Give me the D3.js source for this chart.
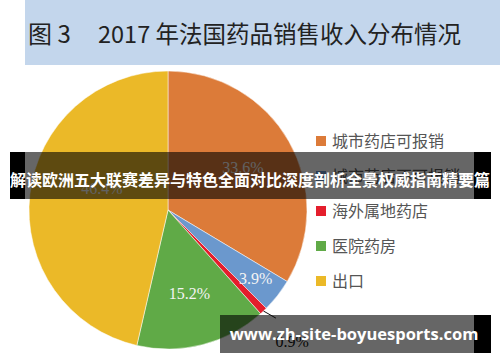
<!DOCTYPE html>
<html>
<head>
<meta charset="utf-8">
<script src="https://cdn.jsdelivr.net/npm/d3@7"></script>
<style>
  body { margin: 0; background: #fff; }
  svg { display: block; }
</style>
</head>
<body>
<div class="main"></div>
<script>
const svgWidth = 500,
    svgHeight = 362;

// data
const categories = ["城市药店可报销", "城市药店不可报销", "海外属地药店", "医院药房", "出口"];
const shares = [33.6, 3.9, 0.9, 15.2, 46.4];
const labels = ["33.6%", "3.9%", "0.9%", "15.2%", "46.4%"];
const colors = ["#dc7b39", "#6b98cd", "#e41e2c", "#60aa47", "#ebb928"];
const titleNo = "图 3";
const titleText = "2017 年法国药品销售收入分布情况";
const bannerText = "解读欧洲五大联赛差异与特色全面对比深度剖析全景权威指南精要篇";
const watermarkText = "www.zh-site-boyuesports.com";

const data = categories.map((c, i) => ({name: c, value: shares[i], label: labels[i], color: colors[i]}));

const svg = d3.select("body>.main").append("svg")
    .attr("width", svgWidth)
    .attr("height", svgHeight);

// title band
svg.append("rect")
    .attr("x", 25).attr("y", 0)
    .attr("width", 475).attr("height", 65)
    .style("fill", "#c3d6ec");

const cjk = "'Noto Sans CJK SC', 'Noto Sans', sans-serif";

svg.append("text")
    .attr("x", 28).attr("y", 43)
    .style("font-family", cjk)
    .style("font-size", "24px")
    .style("fill", "#222")
    .text(titleNo);

svg.append("text")
    .attr("x", 98).attr("y", 43)
    .style("font-family", cjk)
    .style("font-size", "23.5px")
    .style("fill", "#222")
    .text(titleText);

// pie
const cx = 168, cy = 210, radius = 139;

const pie = d3.pie().sort(null).value(d => d.value);
const arc = d3.arc().innerRadius(0).outerRadius(radius);
const arcs = pie(data);

const g = svg.append("g")
    .attr("transform", "translate(" + cx + "," + cy + ")");

g.selectAll(".slice")
    .data(arcs)
  .enter().append("path")
    .attr("class", "slice")
    .attr("d", arc)
    .style("fill", d => d.data.color)
    .style("stroke", "#fff")
    .style("stroke-width", 0.5);

// label placement per slice: radius fraction and angle nudge (radians)
const labelRadius = [0.62, 0.80, 1.30, 0.62, 0.50];
const labelNudge = [0, 0, 0, 0, 0.2];

g.selectAll(".pct")
    .data(arcs)
  .enter().append("text")
    .attr("class", "pct")
    .attr("transform", (d, i) => {
      const a = (d.startAngle + d.endAngle) / 2 + labelNudge[i], r = radius * labelRadius[i];
      return "translate(" + (Math.sin(a) * r) + "," + (-Math.cos(a) * r) + ")";
    })
    .attr("dy", "0.35em")
    .style("text-anchor", "middle")
    .style("font-family", "'Liberation Serif', 'DejaVu Serif', serif")
    .style("font-size", "16px")
    .style("fill", (d, i) => i === 2 ? "#111" : "#f4f4f4")
    .text(d => d.data.label);

// leader line for the small slice
const small = arcs[2],
    smallAngle = (small.startAngle + small.endAngle) / 2;
g.append("line")
    .attr("x1", Math.sin(smallAngle) * radius)
    .attr("y1", -Math.cos(smallAngle) * radius)
    .attr("x2", Math.sin(smallAngle) * radius * 1.13)
    .attr("y2", -Math.cos(smallAngle) * radius * 1.07)
    .style("stroke", "#111")
    .style("stroke-width", 1);

// legend
const legend = svg.append("g").attr("class", "legend")
  .selectAll(".legend__item")
    .data(data)
  .enter().append("g")
    .attr("class", "legend__item")
    .attr("transform", (d, i) => "translate(316," + (141 + i * 35) + ")");

legend.append("rect")
    .attr("x", 0).attr("y", -5)
    .attr("width", 10).attr("height", 10)
    .style("fill", d => d.color);

legend.append("text")
    .attr("x", 16)
    .attr("dy", "0.36em")
    .style("font-family", cjk)
    .style("font-size", "16px")
    .style("fill", "#555")
    .text(d => d.name);

// banner overlay
const banner = svg.append("g").attr("class", "banner");
banner.append("rect")
    .attr("x", 10).attr("y", 152).attr("width", 15).attr("height", 47)
    .style("fill", "#000");
banner.append("rect")
    .attr("x", 474).attr("y", 152).attr("width", 17).attr("height", 47)
    .style("fill", "#000");
banner.append("rect")
    .attr("x", 25).attr("y", 152).attr("width", 449).attr("height", 47)
    .style("fill", "#000").style("fill-opacity", 0.6);
banner.append("text")
    .attr("x", 250).attr("y", 186)
    .style("text-anchor", "middle")
    .style("font-family", cjk)
    .style("font-weight", "bold")
    .style("font-size", "16px")
    .style("fill", "#fff")
    .text(bannerText);

// watermark
const wm = svg.append("g").attr("class", "watermark");
wm.append("rect")
    .attr("x", 220).attr("y", 315).attr("width", 254).attr("height", 38)
    .style("fill", "#000").style("fill-opacity", 0.6);
wm.append("rect")
    .attr("x", 474).attr("y", 315).attr("width", 17).attr("height", 38)
    .style("fill", "#000");
wm.append("text")
    .attr("x", 354).attr("y", 340)
    .style("text-anchor", "middle")
    .style("font-family", "'Open Sans', 'Noto Sans', sans-serif")
    .style("font-weight", "bold")
    .style("font-size", "16.5px")
    .style("fill", "#fff")
    .text(watermarkText);
</script>
</body>
</html>
